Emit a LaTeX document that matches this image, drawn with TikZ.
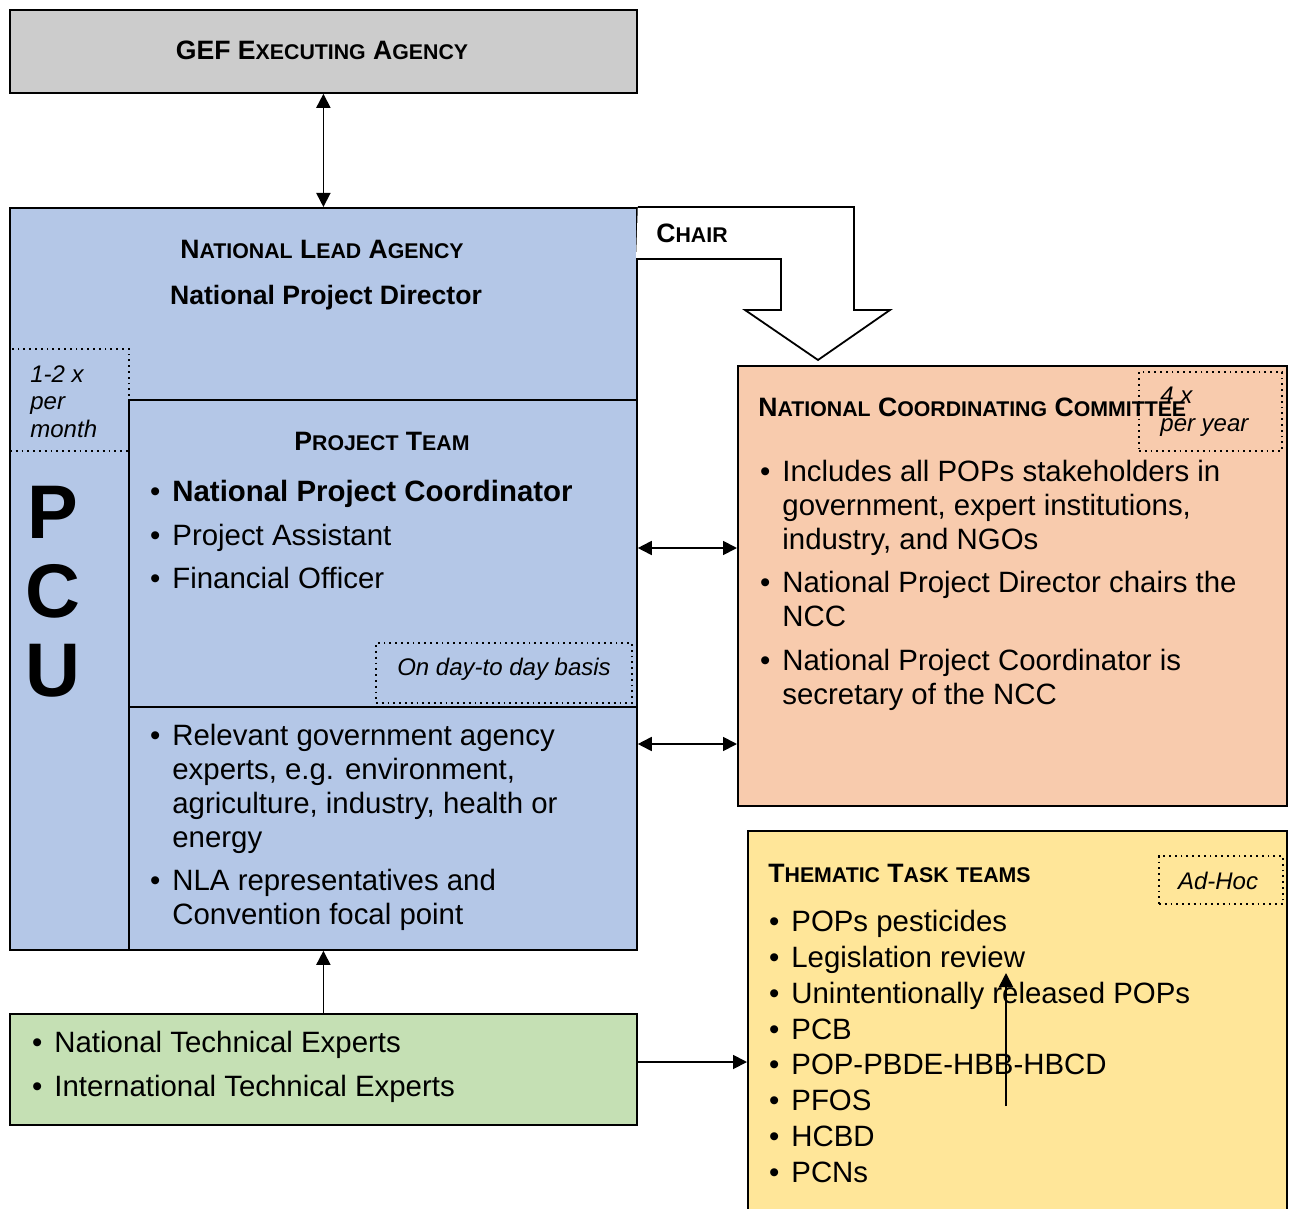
\documentclass[tikz,border=0pt]{standalone}
\usepackage{fontspec}
\setmainfont{Liberation Sans}
\usetikzlibrary{arrows.meta}
\definecolor{gefgray}{HTML}{CCCCCC}
\definecolor{nlablue}{HTML}{B4C7E7}
\definecolor{nccorange}{HTML}{F8CBAD}
\definecolor{expgreen}{HTML}{C5E0B4}
\definecolor{ttyellow}{HTML}{FFE699}
\newcommand\capsc[2]{{\fontsize{13.3}{15}\selectfont #1}{\fontsize{10.65}{12}\selectfont #2}}
\newcommand\itm{\llap{\textbullet\hspace{6pt}}}
\begin{document}
\begin{tikzpicture}[x=0.5pt,y=-0.5pt,
	box/.style={draw, line width=0.9pt, anchor=north west, inner sep=0pt},
	dotbox/.style={draw, dotted, line width=0.9pt, anchor=north west, inner sep=0pt},
	body/.style={font=\fontsize{14.7}{17}\selectfont, align=left, inner sep=0pt, anchor=base west},
	head/.style={font=\bfseries\fontsize{13.3}{15}\selectfont, inner sep=0pt, anchor=base},
	note/.style={font=\itshape\fontsize{12}{13.75}\selectfont, align=left, inner sep=0pt, anchor=base west},
	link/.style={line width=0.9pt, -{Triangle[length=7pt,width=7pt]}},
	twoway/.style={line width=0.9pt, {Triangle[length=7pt,width=7pt]}-{Triangle[length=7pt,width=7pt]}}]

	\useasboundingbox (0,0) rectangle (1290,1209);

	% boxes
	\node[box, fill=gefgray, minimum width=313.5pt, minimum height=41.5pt] (gef) at (9,9) {};
	\node[box, fill=nlablue, minimum width=313.5pt, minimum height=371pt] (nla) at (9,207) {};
	\node[box, fill=nlablue, minimum width=254pt, minimum height=153.5pt] (team) at (128,399) {};
	\node[box, fill=nlablue, minimum width=254pt, minimum height=121.5pt] (agencies) at (128,706) {};
	\node[box, fill=nccorange, minimum width=274.5pt, minimum height=220pt] (ncc) at (737,365) {};
	\node[box, fill=expgreen, minimum width=313.5pt, minimum height=55.5pt] (experts) at (9,1013) {};
	\node[box, fill=ttyellow, minimum width=269.5pt, minimum height=200pt] (tasks) at (747,830) {};

	% frequency boxes
	\node[dotbox, minimum width=59.5pt, minimum height=51pt] (pcufreq) at (9,348) {};
	\node[dotbox, minimum width=128pt, minimum height=30pt] (dayfreq) at (375,642) {};
	\node[dotbox, minimum width=71.5pt, minimum height=39.5pt] (nccfreq) at (1138,371) {};
	\node[dotbox, minimum width=62pt, minimum height=24pt] (adhoc) at (1158,855) {};

	% chair arrow
	\draw[line width=0.9pt, fill=white] (nla.north east) -- (854,207) -- (854,310) -- (890,310) -- (818,360) -- (745,310) -- (781,310) -- (781,259) -- (636,259);

	% titles
	\node[head] (geft) at (322,60) {GEF \capsc{E}{XECUTING} \capsc{A}{GENCY}};
	\node[head] (nlat) at (322,258) {\capsc{N}{ATIONAL} \capsc{L}{EAD} \capsc{A}{GENCY}};
	\node[head] (npd) at (326,305) {National Project Director};
	\node[head, anchor=base west] (chair) at (656,243) {\capsc{C}{HAIR}};
	\node[head] (teamt) at (382,450) {\capsc{P}{ROJECT} \capsc{T}{EAM}};
	\node[head, anchor=base west] (ncct) at (758,416) {\capsc{N}{ATIONAL} \capsc{C}{OORDINATING} \capsc{C}{OMMITTEE}};
	\node[head, anchor=base west] (taskst) at (768,882) {\capsc{T}{HEMATIC} \capsc{T}{ASK} {\fontsize{10.65}{12}\selectfont TEAMS}};
	\node[font=\bfseries\fontsize{38}{39.5}\selectfont, align=center, inner sep=0pt] (pcu) at (53,592) {P\\C\\U};

	% frequencies (base = last line)
	\node[note] (pcufreqt) at (30,437) {1-2 x\\per\\month};
	\node[note, anchor=base] (dayt) at (504,675) {On day-to day basis};
	\node[note] (nccfreqt) at (1160,431) {4 x\\per year};
	\node[note, anchor=base] (adhoct) at (1218,889) {Ad-Hoc};

	% lists (base = last line)
	\node[body] (npc) at (172,501) {\itm\textbf{National Project Coordinator}};
	\node[body] (pa) at (172,545) {\itm Project Assistant};
	\node[body] (fo) at (172,588) {\itm Financial Officer};
	\node[body] (govexp) at (172,847) {\itm Relevant government agency\\experts, e.g. environment,\\agriculture, industry, health or\\energy};
	\node[body] (nlarep) at (172,924) {\itm NLA representatives and\\Convention focal point};
	\node[body] (ncc1) at (782,549) {\itm Includes all POPs stakeholders in\\government, expert institutions,\\industry, and NGOs};
	\node[body] (ncc2) at (782,626) {\itm National Project Director chairs the\\NCC};
	\node[body] (ncc3) at (782,704) {\itm National Project Coordinator is\\secretary of the NCC};
	\node[body] (nte) at (54,1052) {\itm National Technical Experts};
	\node[body] (ite) at (54,1096) {\itm International Technical Experts};
	\foreach \t [count=\i] in {POPs pesticides, Legislation review, Unintentionally released POPs, PCB, POP-PBDE-HBB-HBCD, PFOS, HCBD, PCNs}
		\node[body] (topic\i) at (791,896+35.75*\i) {\itm \t};

	% connectors
	\draw[twoway] (gef.south) -- (nla.north);
	\draw[twoway] (nla.east |- 0,548) -- (ncc.west |- 0,548);
	\draw[twoway] (nla.east |- 0,744) -- (ncc.west |- 0,744);
	\draw[link] (experts.north) -- (nla.south);
	\draw[link] (experts.east |- 0,1062) -- (tasks.west |- 0,1062);
	\coordinate (stray) at (1006,1106);
	\draw[link] (stray) -- ++(0,-133);
\end{tikzpicture}
\end{document}
